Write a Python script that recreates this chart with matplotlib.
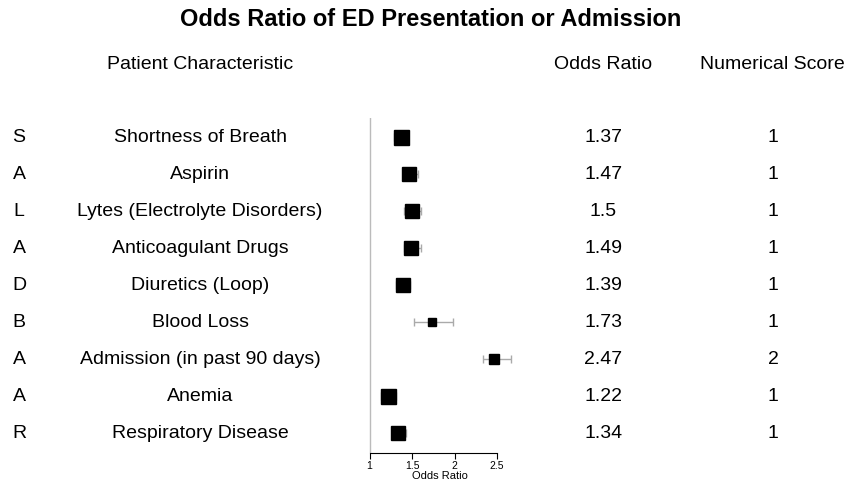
import matplotlib.pyplot as plt

plt.rcParams['font.family'] = ['Liberation Sans', 'DejaVu Sans']

letters = ['S', 'A', 'L', 'A', 'D', 'B', 'A', 'A', 'R']
characteristics = ['Shortness of Breath', 'Aspirin', 'Lytes (Electrolyte Disorders)',
                   'Anticoagulant Drugs', 'Diuretics (Loop)', 'Blood Loss',
                   'Admission (in past 90 days)', 'Anemia', 'Respiratory Disease']
odds_ratio = [1.37, 1.47, 1.5, 1.49, 1.39, 1.73, 2.47, 1.22, 1.34]
ci_low = [1.29, 1.39, 1.41, 1.40, 1.31, 1.52, 2.33, 1.13, 1.26]
ci_high = [1.45, 1.57, 1.61, 1.60, 1.48, 1.98, 2.66, 1.31, 1.43]
scores = [1, 1, 1, 1, 1, 1, 2, 1, 1]
or_labels = ['1.37', '1.47', '1.5', '1.49', '1.39', '1.73', '2.47', '1.22', '1.34']

# box sizes in points (weight of each estimate)
box_size = [10.8, 10.5, 10.5, 10.5, 10.5, 5.4, 6.8, 10.8, 10.5]

W, H = 861, 491
fig = plt.figure(figsize=(W / 100, H / 100), dpi=100)

ax = fig.add_axes([365.25 / W, 1 - 452.7 / H, 148.75 / W, (452.7 - 118) / H])
n = len(odds_ratio)
ys = [n - i for i in range(n)]
for i in range(n):
    ax.errorbar(odds_ratio[i], ys[i],
                xerr=[[odds_ratio[i] - ci_low[i]], [ci_high[i] - odds_ratio[i]]],
                fmt='none', ecolor='#aaaaaa', elinewidth=1, capsize=3, zorder=2)
    ax.plot(odds_ratio[i], ys[i], marker='s', color='black', markersize=box_size[i],
            linestyle='none', zorder=3)
ax.set_xlim(0.95, 2.7)
ax.set_ylim(1 - (452.7 - 433) / 37, 9 + (137 - 118) / 37)
ax.axvline(1, color='#bbbbbb', linewidth=1, zorder=1)
for s in ['top', 'right', 'left']:
    ax.spines[s].set_visible(False)
ax.spines['bottom'].set_bounds(1, 2.5)
ax.set_xticks([1, 1.5, 2, 2.5])
ax.set_xticklabels(['1', '1.5', '2', '2.5'])
ax.set_yticks([])
ax.tick_params(axis='x', labelsize=7.5, length=4, pad=2)
ax.set_xlabel('Odds Ratio', fontsize=8, labelpad=0)

fig.text(430.5 / W, 1 - 20 / H, 'Odds Ratio of ED Presentation or Admission',
         ha='center', va='center', fontsize=17, fontweight='bold')
fig.text(200 / W, 1 - 64.5 / H, 'Patient Characteristic', ha='center', va='center', fontsize=14)
fig.text(603.5 / W, 1 - 64.5 / H, 'Odds Ratio', ha='center', va='center', fontsize=14)
fig.text(772.5 / W, 1 - 64.5 / H, 'Numerical Score', ha='center', va='center', fontsize=14)

for i in range(n):
    yp = 1 - (137.5 + 37 * i) / H
    fig.text(19 / W, yp, letters[i], ha='center', va='center', fontsize=14)
    fig.text(200 / W, yp, characteristics[i], ha='center', va='center', fontsize=14)
    fig.text(603.5 / W, yp, or_labels[i], ha='center', va='center', fontsize=14)
    fig.text(773 / W, yp, str(scores[i]), ha='center', va='center', fontsize=14)

fig.savefig('out.png', dpi=100)
